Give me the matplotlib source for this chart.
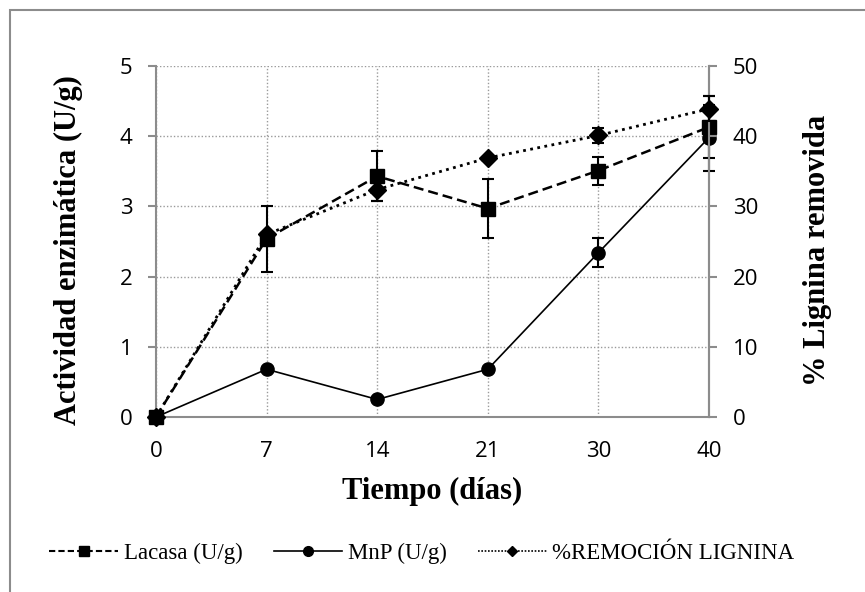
import numpy as np
import matplotlib.pyplot as plt
from matplotlib.lines import Line2D
from matplotlib.patches import Rectangle

# datos
dias = ["0", "7", "14", "21", "30", "40"]
lacasa = [0, 2.54, 3.43, 2.97, 3.51, 4.13]
lacasa_err = [0, 0.47, 0.36, 0.42, 0.20, 0.44]
mnp = [0, 0.68, 0.25, 0.68, 2.34, 3.98]
mnp_err = [0, 0, 0, 0, 0.21, 0.47]
remocion = [0, 26.0, 32.4, 36.9, 40.1, 43.9]
remocion_err = [0, 0, 1.6, 0, 1.1, 1.8]

serif = "Liberation Serif"
sans = "Open Sans"
grey = "#8c8c8c"
W, H = 865, 592


def no_clip(container):
    for art in container.get_children():
        art.set_clip_on(False)


def main():
    fig = plt.figure(figsize=(W / 100, H / 100), dpi=100)
    ax = fig.add_axes([156 / W, 1 - 417 / H, (709 - 156) / W, (417 - 66) / H])
    ax2 = ax.twinx()

    x = np.arange(len(dias))

    # rejilla punteada
    ax.grid(True, color="#9a9a9a", linestyle=(0, (1, 1.5)), linewidth=1.0)
    ax.set_axisbelow(True)

    c1 = ax.errorbar(x, lacasa, yerr=lacasa_err, color="black", ls=(0, (4, 2)), lw=1.8,
                     marker="s", ms=9.5, capsize=4, elinewidth=1.5, capthick=1.5, zorder=3)
    c2 = ax.errorbar(x, mnp, yerr=mnp_err, color="black", ls="-", lw=1.2,
                     marker="o", ms=9.5, capsize=4, elinewidth=1.5, capthick=1.5, zorder=3)
    c3 = ax2.errorbar(x, remocion, yerr=remocion_err, color="black", ls=(0, (1, 1.6)), lw=2,
                      marker="D", ms=9, capsize=4, elinewidth=1.5, capthick=1.5, zorder=3)
    for c in (c1, c2, c3):
        no_clip(c)

    ax.set_xlim(0, 5)
    ax.set_ylim(0, 5)
    ax2.set_ylim(0, 50)
    ax.set_xticks(x)
    ax.set_xticklabels(dias)
    ax.set_yticks(np.arange(0, 6, 1))
    ax2.set_yticks(np.arange(0, 60, 10))

    for a in (ax, ax2):
        a.spines["top"].set_visible(False)
        for s in ("left", "right", "bottom"):
            a.spines[s].set_color(grey)
            a.spines[s].set_linewidth(1.5)
        a.tick_params(axis="y", length=6, width=1.5, color=grey, pad=11,
                      labelsize=16)
        for lab in a.get_yticklabels():
            lab.set_fontfamily(sans)
    ax2.spines["left"].set_visible(False)
    ax2.spines["bottom"].set_visible(False)
    ax.tick_params(axis="x", length=0, pad=17, labelsize=16)
    for lab in ax.get_xticklabels():
        lab.set_fontfamily(sans)

    # titulos de ejes
    fig.text(68 / W, 1 - 250 / H, "Actividad enzimática (U/g)", rotation=90,
             ha="center", va="center", fontfamily=serif, fontweight="bold", fontsize=22)
    fig.text(817 / W, 1 - 250 / H, "% Lignina removida", rotation=90,
             ha="center", va="center", fontfamily=serif, fontweight="bold", fontsize=22)
    fig.text(432 / W, 1 - 491 / H, "Tiempo (días)",
             ha="center", va="center", fontfamily=serif, fontweight="bold", fontsize=22)

    handles = [
        Line2D([], [], color="black", ls=(0, (3, 1.5)), lw=1.5, marker="s", ms=7),
        Line2D([], [], color="black", ls="-", lw=1.2, marker="o", ms=7),
        Line2D([], [], color="black", ls=(0, (1, 1)), lw=1.2, marker="D", ms=5),
    ]
    labels = ["Lacasa (U/g)", "MnP (U/g)", "%REMOCIÓN LIGNINA"]
    fig.legend(handles, labels, loc="center", bbox_to_anchor=(422 / W, 1 - 553 / H),
               ncol=3, frameon=False, handlelength=3.0, handletextpad=0.25,
               columnspacing=1.35, borderpad=0, borderaxespad=0,
               prop={"family": serif, "size": 16.5})

    # marco exterior del grafico
    fig.patches.append(Rectangle((9.5 / W, -0.1), 1.2, 1 - 9.5 / H + 0.1,
                                 transform=fig.transFigure, fill=False,
                                 edgecolor=grey, linewidth=1.5))

    fig.savefig("out.png", dpi=100)


if __name__ == '__main__':
    main()
